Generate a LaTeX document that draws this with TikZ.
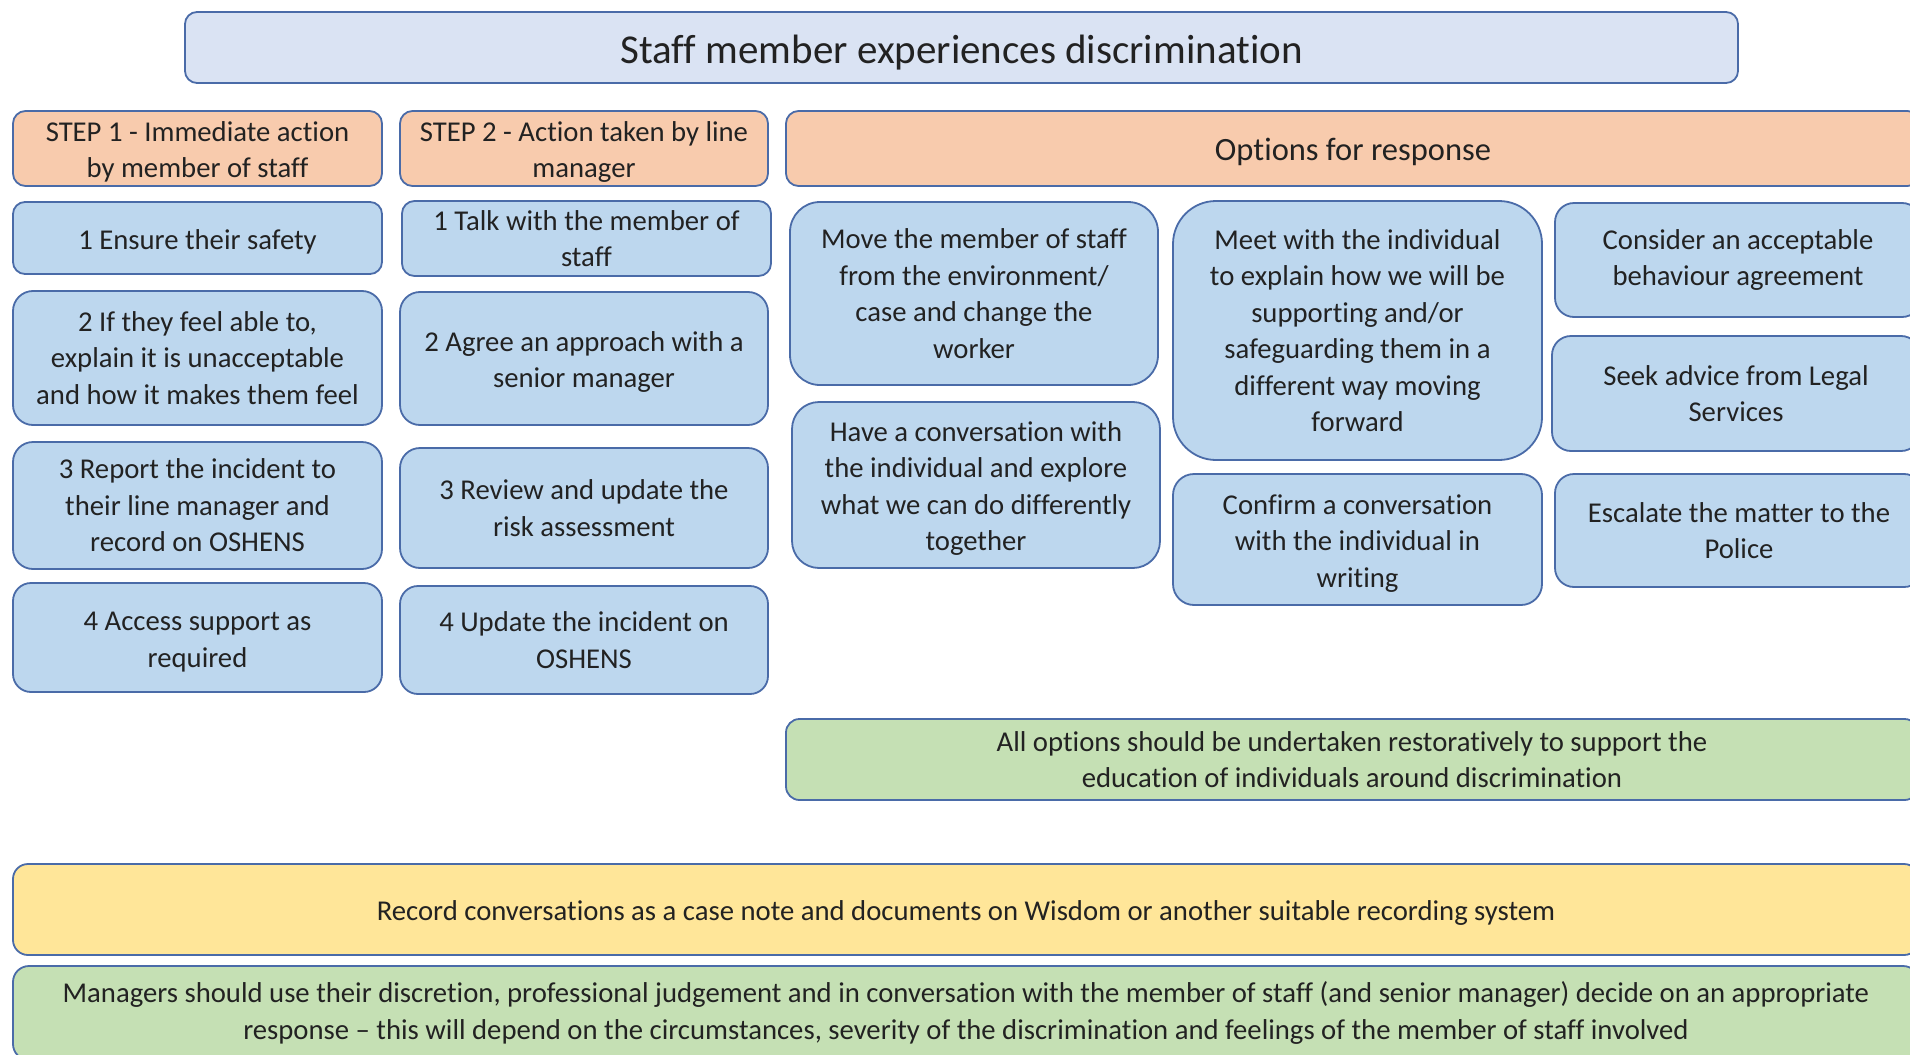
\documentclass[tikz,border=0pt]{standalone}
\usepackage{fontspec}
\setmainfont{Carlito}[Ligatures=CommonOff]
\definecolor{edge}{HTML}{4A6BA8}
\definecolor{ink}{HTML}{222222}
\definecolor{titlefill}{HTML}{DAE3F3}
\definecolor{headfill}{HTML}{F8CBAD}
\definecolor{itemfill}{HTML}{BDD7EE}
\definecolor{notefill}{HTML}{C5E0B4}
\definecolor{recordfill}{HTML}{FFE699}
% strut that lowers the first line of a box label a little
\newcommand{\lowstrut}[1]{\rule{0pt}{#1em}}
\begin{document}
\begin{tikzpicture}[x=1pt,y=-1pt,
  box/.style={draw=edge, line width=1.8pt, rounded corners=#1, inner sep=0pt,
    align=center, text=ink, font=\fontsize{28.7}{36.5}\selectfont,
    execute at begin node={\lowstrut{0.93}}},
  box/.default=13pt,
  titlebox/.style={box=12pt, fill=titlefill, font=\fontsize{41}{48}\selectfont},
  headbox/.style={box=#1, fill=headfill},
  headbox/.default=12.5pt,
  itembox/.style={box=#1, fill=itemfill},
  itembox/.default=13pt,
  notebox/.style={box=#1, fill=notefill},
  notebox/.default=14pt,
  recordbox/.style={box=15pt, fill=recordfill}]
\useasboundingbox (0,0) rectangle (1910,1054);
\clip (0,0) rectangle (1910,1054);

% title
\node[titlebox, minimum width=1553pt, minimum height=71pt] (title) at (961.5,47.5)
  {Staff member experiences discrimination};

% column headers
\node[headbox, minimum width=369pt, minimum height=75pt] (s1h) at (197.5,148.5)
  {\lowstrut{0.93}STEP 1 - Immediate action\\by member of staff};
\node[headbox, minimum width=368pt, minimum height=75pt] (s2h) at (584,148.5)
  {\lowstrut{0.93}STEP 2 - Action taken by line\\manager};
\node[headbox, minimum width=1134pt, minimum height=75pt,
  font=\fontsize{32.5}{40}\selectfont] (opth) at (1353,148.5)
  {Options for response};

% step 1
\node[itembox=12pt, minimum width=369pt, minimum height=72pt] (a1) at (197.5,238)
  {1 Ensure their safety};
\node[itembox=20pt, minimum width=369pt, minimum height=134pt] (a2) at (197.5,358)
  {2 If they feel able to,\\explain it is unacceptable\\and how it makes them feel};
\node[itembox=20pt, minimum width=369pt, minimum height=127pt] (a3) at (197.5,505.5)
  {3 Report the incident to\\their line manager and\\record on OSHENS};
\node[itembox=18pt, minimum width=369pt, minimum height=109pt] (a4) at (197.5,637.5)
  {\lowstrut{0.95}4 Access support as\\required};

% step 2
\node[itembox=12.5pt, minimum width=369pt, minimum height=75pt] (b1) at (586.5,238.5)
  {1 Talk with the member of\\staff};
\node[itembox=20pt, minimum width=368pt, minimum height=133pt] (b2) at (584,358.5)
  {\lowstrut{0.95}2 Agree an approach with a\\senior manager};
\node[itembox=20pt, minimum width=368pt, minimum height=120pt] (b3) at (584,508)
  {3 Review and update the\\risk assessment};
\node[itembox=18pt, minimum width=368pt, minimum height=108pt] (b4) at (584,640)
  {4 Update the incident on\\OSHENS};

% options
\node[itembox=30pt, minimum width=368pt, minimum height=183pt] (m1) at (974,293.5)
  {Move the member of staff\\from the environment/\\case and change the\\worker};
\node[itembox=27pt, minimum width=368pt, minimum height=166pt] (m2) at (976,485)
  {\lowstrut{0.95}Have a conversation with\\the individual and explore\\what we can do differently\\together};
\node[itembox=43pt, minimum width=369pt, minimum height=259pt] (n1) at (1357.5,330.5)
  {Meet with the individual\\to explain how we will be\\supporting and/or\\safeguarding them in a\\different way moving\\forward};
\node[itembox=21pt, minimum width=369pt, minimum height=131pt] (n2) at (1357.5,539.5)
  {\lowstrut{0.95}Confirm a conversation\\with the individual in\\writing};
\node[itembox=19pt, minimum width=366pt, minimum height=114pt] (r1) at (1738,260)
  {Consider an acceptable\\behaviour agreement};
\node[itembox=19pt, minimum width=368pt, minimum height=115pt] (r2) at (1736,393.5)
  {Seek advice from Legal\\Services};
\node[itembox=19pt, minimum width=368pt, minimum height=113pt] (r3) at (1739,530.5)
  {Escalate the matter to the\\Police};

% notes
\node[notebox=13.5pt, minimum width=1132pt, minimum height=81pt] (g1) at (1352,759.5)
  {All options should be undertaken restoratively to support the\\education of individuals around discrimination};
\node[recordbox, minimum width=1906pt, minimum height=91pt] (rec) at (966,909.5)
  {Record conversations as a case note and documents on Wisdom or another suitable recording system};
\node[notebox=16pt, minimum width=1906pt, minimum height=94pt] (g2) at (966,1013)
  {Managers should use their discretion, professional judgement and in conversation with the member of staff (and senior manager) decide on an appropriate\\response -- this will depend on the circumstances, severity of the discrimination and feelings of the member of staff involved};
\end{tikzpicture}
\end{document}
